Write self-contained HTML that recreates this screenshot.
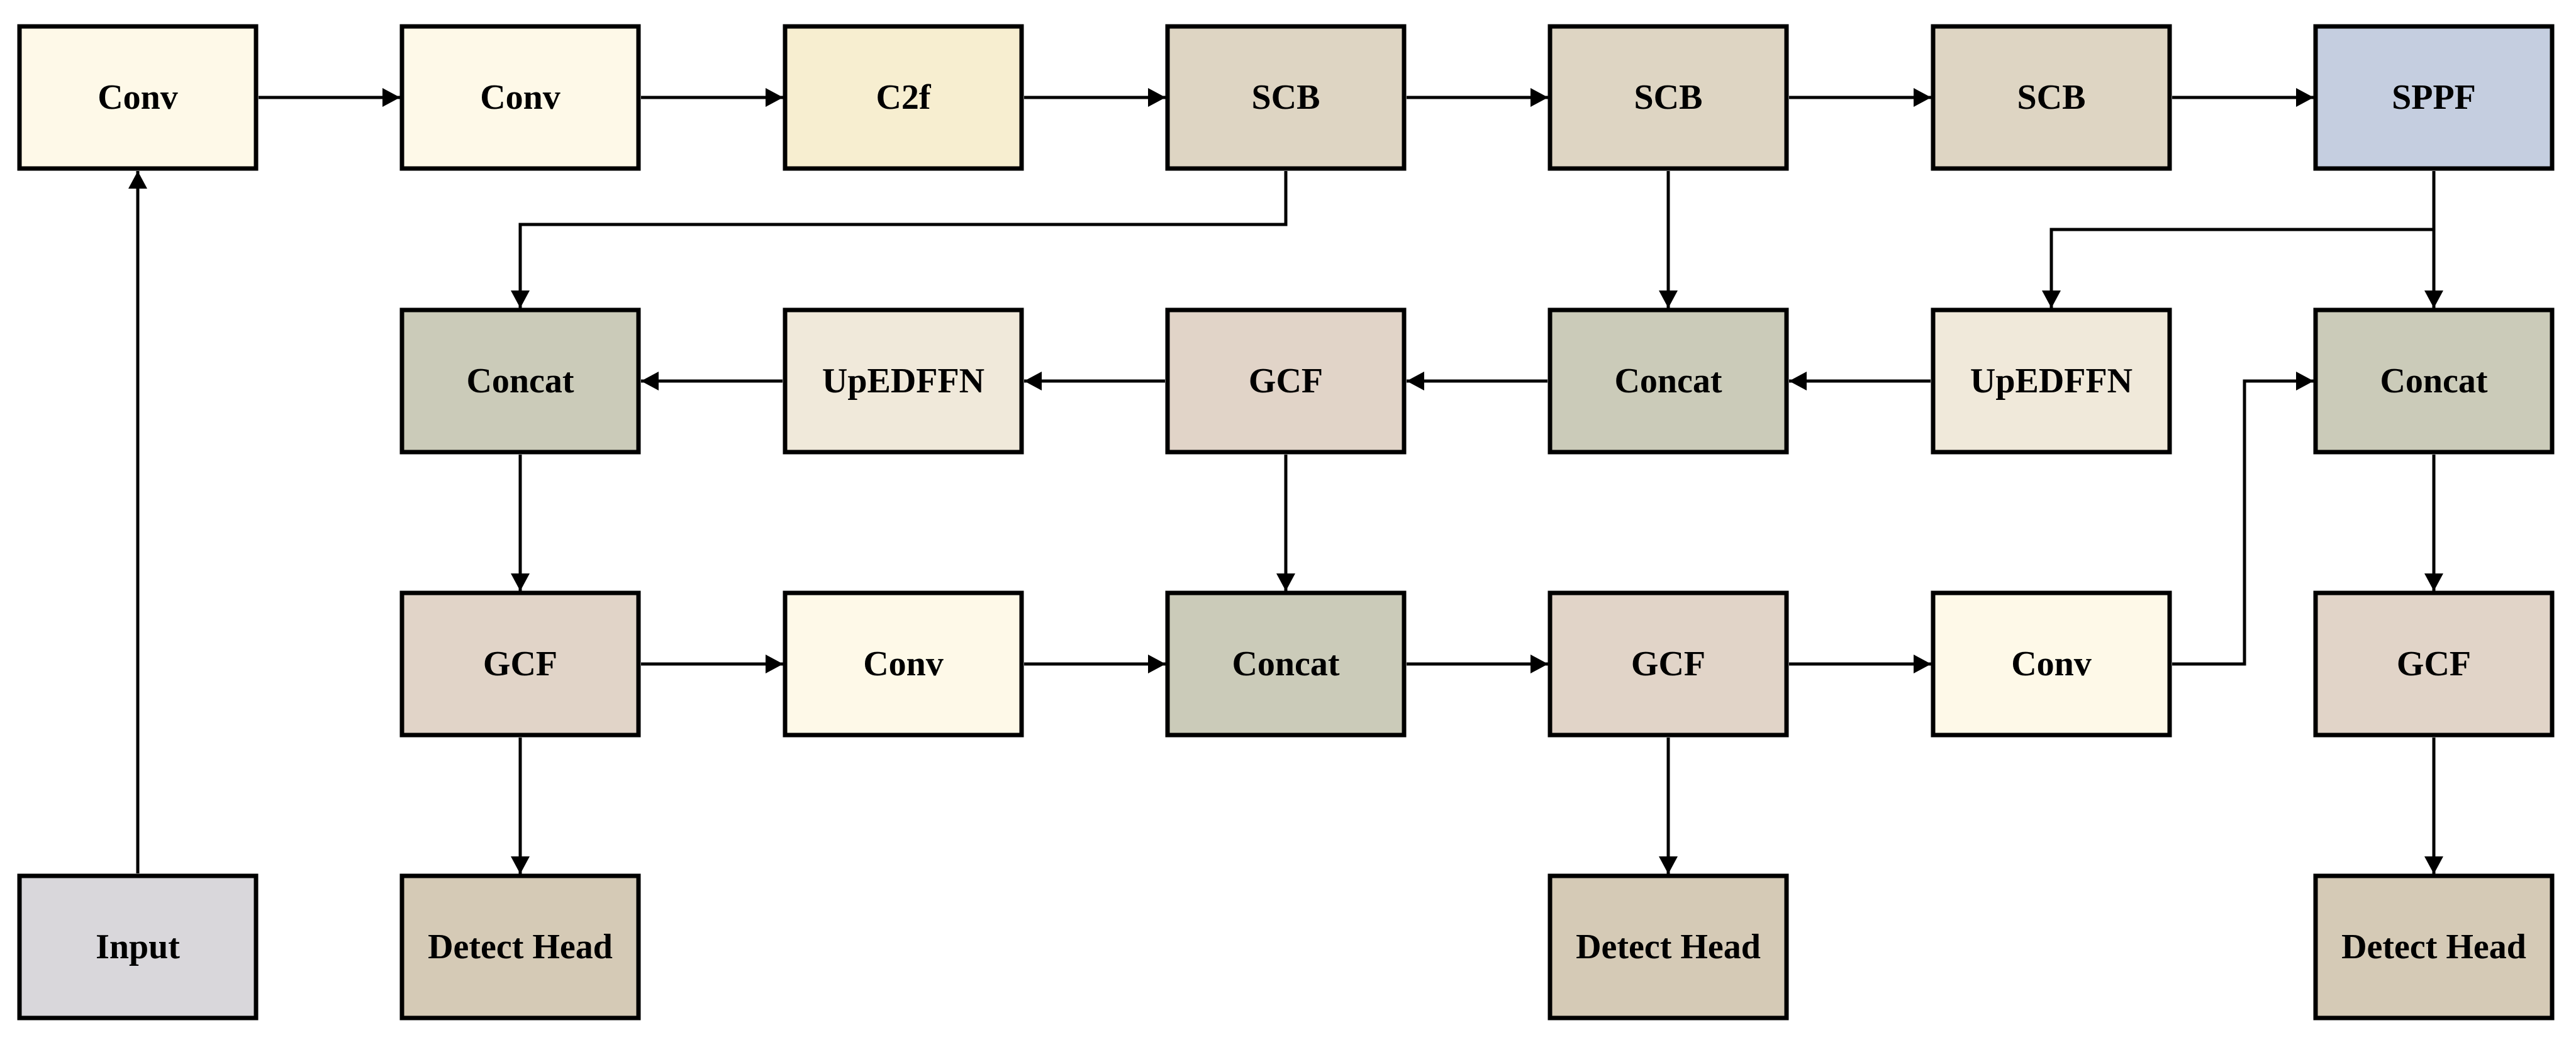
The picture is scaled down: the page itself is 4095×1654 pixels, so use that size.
<!DOCTYPE html>
<html><head><meta charset="utf-8"><style>
html,body{margin:0;padding:0;background:#fff;}
svg{display:block;}
text{font-family:"Liberation Serif",serif;font-weight:bold;font-size:56px;text-anchor:middle;dominant-baseline:central;fill:#000;}
</style></head><body>
<svg width="4095" height="1654" viewBox="0 0 4095 1654" xmlns="http://www.w3.org/2000/svg">
<defs>
<marker id="a" markerUnits="userSpaceOnUse" markerWidth="30" markerHeight="30" refX="28" refY="15" orient="auto">
<path d="M0,0 L28,15 L0,30 Z" fill="#000"/>
</marker>
</defs>
<g stroke="#000" stroke-width="7">
<!-- row 0 -->
<rect x="31" y="42" width="376" height="226" fill="#FEF9E8"/>
<rect x="639" y="42" width="376" height="226" fill="#FEF9E8"/>
<rect x="1248" y="42" width="376" height="226" fill="#F7EED0"/>
<rect x="1856" y="42" width="376" height="226" fill="#DED5C3"/>
<rect x="2464" y="42" width="376" height="226" fill="#DED5C3"/>
<rect x="3073" y="42" width="376" height="226" fill="#DED5C3"/>
<rect x="3681" y="42" width="376" height="226" fill="#C5CEE0"/>
<!-- row 1 -->
<rect x="639" y="493" width="376" height="226" fill="#CBCBB9"/>
<rect x="1248" y="493" width="376" height="226" fill="#F0E9DA"/>
<rect x="1856" y="493" width="376" height="226" fill="#E1D4C8"/>
<rect x="2464" y="493" width="376" height="226" fill="#CBCBB9"/>
<rect x="3073" y="493" width="376" height="226" fill="#F0E9DA"/>
<rect x="3681" y="493" width="376" height="226" fill="#CBCBB9"/>
<!-- row 2 -->
<rect x="639" y="943" width="376" height="226" fill="#E1D4C8"/>
<rect x="1248" y="943" width="376" height="226" fill="#FEF9E8"/>
<rect x="1856" y="943" width="376" height="226" fill="#CBCBB9"/>
<rect x="2464" y="943" width="376" height="226" fill="#E1D4C8"/>
<rect x="3073" y="943" width="376" height="226" fill="#FEF9E8"/>
<rect x="3681" y="943" width="376" height="226" fill="#E1D4C8"/>
<!-- row 3 -->
<rect x="31" y="1393" width="376" height="226" fill="#D9D7DB"/>
<rect x="639" y="1393" width="376" height="226" fill="#D5CAB6"/>
<rect x="2464" y="1393" width="376" height="226" fill="#D5CAB6"/>
<rect x="3681" y="1393" width="376" height="226" fill="#D5CAB6"/>
</g>
<g stroke="#000" stroke-width="5" fill="none" marker-end="url(#a)">
<!-- row0 horizontals -->
<path d="M411,155 H636"/>
<path d="M1019,155 H1245"/>
<path d="M1628,155 H1853"/>
<path d="M2236,155 H2461"/>
<path d="M2844,155 H3070"/>
<path d="M3453,155 H3678"/>
<!-- input up -->
<path d="M219,1389 V272"/>
<!-- SCB3 -> concat1 -->
<path d="M2044,272 V357 H827 V490"/>
<!-- SCB4 -> concat4 -->
<path d="M2652,272 V490"/>
<!-- SPPF -> concat6 and UpEDFFN5 -->
<path d="M3869,272 V490"/>
<path d="M3869,365 H3261 V490"/>
<!-- row1 leftward -->
<path d="M3069,606 H2844"/>
<path d="M2460,606 H2236"/>
<path d="M1852,606 H1628"/>
<path d="M1244,606 H1019"/>
<!-- row1 -> row2 -->
<path d="M827,723 V940"/>
<path d="M2044,723 V940"/>
<path d="M3869,723 V940"/>
<!-- row2 horizontals -->
<path d="M1019,1056 H1245"/>
<path d="M1628,1056 H1853"/>
<path d="M2236,1056 H2461"/>
<path d="M2844,1056 H3070"/>
<path d="M3453,1056 H3568 V606 H3678"/>
<!-- row2 -> row3 -->
<path d="M827,1173 V1390"/>
<path d="M2652,1173 V1390"/>
<path d="M3869,1173 V1390"/>
</g>
<g>
<text x="219" y="155">Conv</text>
<text x="827" y="155">Conv</text>
<text x="1436" y="155">C2f</text>
<text x="2044" y="155">SCB</text>
<text x="2652" y="155">SCB</text>
<text x="3261" y="155">SCB</text>
<text x="3869" y="155">SPPF</text>
<text x="827" y="606">Concat</text>
<text x="1436" y="606">UpEDFFN</text>
<text x="2044" y="606">GCF</text>
<text x="2652" y="606">Concat</text>
<text x="3261" y="606">UpEDFFN</text>
<text x="3869" y="606">Concat</text>
<text x="827" y="1056">GCF</text>
<text x="1436" y="1056">Conv</text>
<text x="2044" y="1056">Concat</text>
<text x="2652" y="1056">GCF</text>
<text x="3261" y="1056">Conv</text>
<text x="3869" y="1056">GCF</text>
<text x="219" y="1506">Input</text>
<text x="827" y="1506">Detect Head</text>
<text x="2652" y="1506">Detect Head</text>
<text x="3869" y="1506">Detect Head</text>
</g>
</svg>
</body></html>
